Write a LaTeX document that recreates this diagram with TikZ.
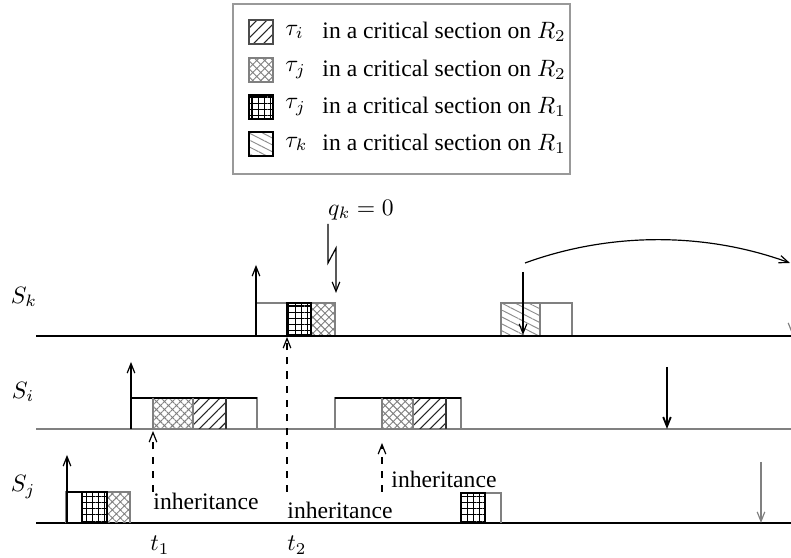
\documentclass[tikz,border=0pt]{standalone}
\usepackage{fontspec}
\setmainfont{Liberation Serif}
\usetikzlibrary{arrows.meta, patterns.meta}

\tikzset{
  arr/.style={-{Straight Barb[length=4pt,width=3.2pt]}},
  hatchI/.style={pattern={Lines[angle=45,distance=3pt,line width=0.45pt]}, pattern color=black!85},
  netJ/.style={pattern={Hatch[angle=45,distance=2.4pt,line width=0.4pt]}, pattern color=gray},
  gridJ/.style={pattern={Hatch[angle=0,distance=2.6pt,line width=0.45pt]}, pattern color=black},
  hatchK/.style={pattern={Lines[angle=-27,distance=2.6pt,line width=0.4pt]}, pattern color=gray!90},
  job/.style={draw=gray, line width=0.6pt},
}

\begin{document}
\begin{tikzpicture}[x=0.423pt, y=-0.423pt, line width=0.5pt, font=\fontsize{10}{12}\selectfont]
    \useasboundingbox (0,0) rectangle (791,558);

    % Legend
    \draw[gray!80, line width=0.8pt] (233,4) rectangle (570,174);
    \filldraw[hatchI, draw=black!70] (249,20) rectangle (273,44);
    \filldraw[netJ, draw=gray] (249,58) rectangle (273,82);
    \filldraw[gridJ, draw=black] (249,95) rectangle (273,119);
    \filldraw[hatchK, draw=black, line width=1.2pt] (249,132) rectangle (273,156);
    \node[anchor=west] (li) at (277,32) {$\tau_i$};
    \node[anchor=west] (lj) at (277,70) {$\tau_j$};
    \node[anchor=west] (lj1) at (277,107) {$\tau_j$};
    \node[anchor=west] (lk) at (277,144) {$\tau_k$};
    \node[anchor=west] (ti) at (314,32) {in a critical section on $R_2$};
    \node[anchor=west] (tj) at (314,70) {in a critical section on $R_2$};
    \node[anchor=west] (tj1) at (314,107) {in a critical section on $R_1$};
    \node[anchor=west] (tk) at (314,144) {in a critical section on $R_1$};

    % Task names
    \node (sk) at (24,297) {$S_k$};
    \node (si) at (23,392) {$S_i$};
    \node (sj) at (23,487) {$S_j$};

    % Time axes
    \draw[line width=0.8pt] (36,336) -- (791,336);
    \draw[gray, line width=0.8pt] (36,429) -- (791,429);
    \draw[line width=0.8pt] (36,523) -- (791,523);

    % Jobs of S_k
    \fill[gridJ] (287,303) rectangle (311,335);
    \fill[netJ] (311,303) rectangle (335,335);
    \draw[job] (256,335) -- (256,303) -- (335,303) -- (335,335);
    \draw[line width=0.6pt] (287,303) rectangle (311,335);
    \fill[hatchK] (501,303) rectangle (540,335);
    \draw[job] (501,335) -- (501,303) -- (572,303) -- (572,335);
    \draw[job] (540,303) -- (540,335);

    % Jobs of S_i
    \fill[netJ] (153,398) rectangle (193,429);
    \fill[hatchI] (193,398) rectangle (226,429);
    \draw[job] (131,429) -- (131,398) -- (257,398) -- (257,429);
    \draw[black, line width=0.8pt] (131,398) -- (257,398);
    \draw[job] (153,398) -- (153,429) (193,398) -- (193,429);
    \draw[black!80] (226,398) -- (226,429);
    \fill[netJ] (382,398) rectangle (413,429);
    \fill[hatchI] (413,398) rectangle (446,429);
    \draw[job] (335,429) -- (335,398) -- (461,398) -- (461,429);
    \draw[black, line width=0.8pt] (335,398) -- (461,398);
    \draw[job] (382,398) -- (382,429) (413,398) -- (413,429);
    \draw[black!80] (446,398) -- (446,429);

    % Jobs of S_j
    \fill[gridJ] (82,492) rectangle (107,523);
    \fill[netJ] (107,492) rectangle (130,523);
    \draw[job] (66,523) -- (66,492) -- (130,492) -- (130,523);
    \draw[black, line width=0.8pt] (66,492) -- (107,492);
    \draw[line width=0.6pt] (82,492) rectangle (107,523);
    \fill[gridJ] (461,493) rectangle (485,523);
    \draw[job] (461,493) -- (501,493) -- (501,523);
    \draw[line width=0.6pt] (461,493) rectangle (485,523);

    % Releases and deadlines
    \draw[arr] (256,336) -- (256,265);
    \draw[arr] (131,429) -- (131,362);
    \draw[arr] (67,523) -- (67,455);
    \draw[arr] (523,272) -- (523,335);
    \draw[arr, line width=0.8pt] (667,367) -- (667,429);
    \draw[arr, gray] (761,462) -- (761,523);
    \draw[arr, gray] (792,318) -- (792,334);

    % Budget exhausted
    \node (qk) at (361,210) {$q_k = 0$};
    \draw[arr] (328,224) -- (328,263) -- (336,248) -- (336,293);
    \draw[arr] (525,263) .. controls (610,232) and (705,232) .. (790,263);

    % Priority inheritance
    \draw[arr, dashed] (153,492) -- (153,431);
    \draw[arr, dashed] (287,492) -- (287,337);
    \draw[arr, dashed] (382,492) -- (382,443);
    \node (inh1) at (206,501) {inheritance};
    \node (inh2) at (340,510) {inheritance};
    \node (inh3) at (444,479) {inheritance};

    \node (t1) at (160,545) {$t_1$};
    \node (t2) at (297,545) {$t_2$};
\end{tikzpicture}
\end{document}
